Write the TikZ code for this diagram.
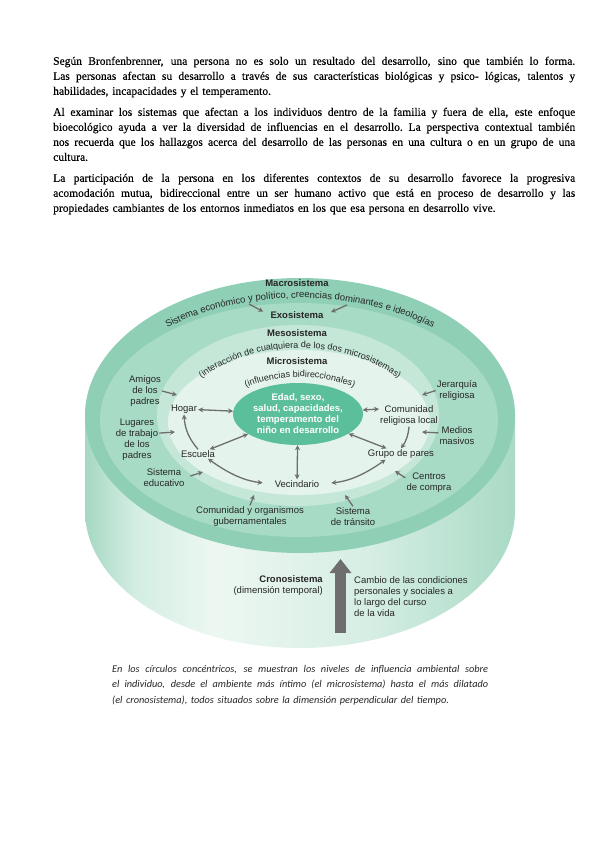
\documentclass[tikz,border=0pt]{standalone}
\usepackage{fontspec}
\setmainfont{Liberation Serif}
\setsansfont{Liberation Sans}
\newfontfamily\capfont{Carlito}
\newfontfamily\bodyfont[FakeBold=0.3]{Liberation Serif}
\usetikzlibrary{shapes.geometric,arrows.meta,decorations.text}
\XeTeXinterwordspaceshaping=0

\definecolor{gmacro}{HTML}{8FCFB6}
\definecolor{gexo}{HTML}{A8DBC6}
\definecolor{gmeso}{HTML}{C4E7D8}
\definecolor{gmicro}{HTML}{E4F4ED}
\definecolor{gcentre}{HTML}{5CBF9C}
\definecolor{garrow}{HTML}{6E6E6E}
\definecolor{gtext}{HTML}{262626}
\definecolor{gsideA}{HTML}{A6D8C3}
\definecolor{gsideB}{HTML}{D4EEE3}
\definecolor{gsideC}{HTML}{EDF7F2}
\definecolor{gsideD}{HTML}{D6EEE4}
\definecolor{gsideE}{HTML}{A9DAC5}

\pgfdeclarehorizontalshading{cylside}{100bp}{color(0bp)=(gsideA); color(25bp)=(gsideA); color(31bp)=(gsideB); color(40bp)=(gsideC); color(58bp)=(gsideD); color(75bp)=(gsideE); color(100bp)=(gsideE)}

\newcommand{\spreadline}[2]{\leavevmode\hbox to #1{\spaceskip=\fontdimen2\font plus 1fil\relax\xspaceskip=\spaceskip #2}}
\newcommand{\fullline}[1]{\spreadline{522pt}{#1}}
\newcommand{\capline}[1]{\spreadline{376pt}{#1}}

\begin{document}
\begin{tikzpicture}[x=1pt,y=1pt,
  lab/.style={font=\fontsize{9.5}{11}\selectfont\sffamily, text=gtext, align=center, inner sep=1pt},
  ttl/.style={lab, font=\fontsize{9.5}{11}\selectfont\sffamily\bfseries},
  arr/.style={draw=garrow, line width=1.3pt, -{Stealth[length=5pt,width=5pt]}},
  arrb/.style={arr, {Stealth[length=5pt,width=5pt]}-{Stealth[length=5pt,width=5pt]}},
  body/.style={font=\bodyfont\fontsize{11.5}{15}\selectfont, text=black, anchor=north west, inner sep=0pt, text width=522pt},
  curved/.style={decorate, decoration={text along path, text align=center, text color=gtext, text={#1}}}
]
\useasboundingbox (0,0) rectangle (599,-848);
\fill[white] (0,0) rectangle (599,-848);

% ---------- body text ----------
\node[body] (p1) at (53,-54.1) {\fullline{\strut Según Bronfenbrenner, una persona no es solo un resultado del desarrollo, sino que también lo forma.}\\
\fullline{Las personas afectan su desarrollo a través de sus características biológicas y psico- lógicas, talentos y}\\
habilidades, incapacidades y el temperamento.};

\node[body] (p2) at (53,-105.1) {\fullline{\strut Al examinar los sistemas que afectan a los individuos dentro de la familia y fuera de ella, este enfoque}\\
\fullline{bioecológico ayuda a ver la diversidad de influencias en el desarrollo. La perspectiva contextual también}\\
\fullline{nos recuerda que los hallazgos acerca del desarrollo de las personas en una cultura o en un grupo de una}\\
cultura.};

\node[body] (p3) at (53,-171.1) {\fullline{\strut La participación de la persona en los diferentes contextos de su desarrollo favorece la progresiva}\\
\fullline{acomodación mutua, bidireccional entre un ser humano activo que está en proceso de desarrollo y las}\\
propiedades cambiantes de los entornos inmediatos en los que esa persona en desarrollo vive.};

% ---------- cylinder ----------
\path[shading=cylside] (85,-415.5) -- (85,-510.5)
  arc[start angle=180, end angle=360, x radius=215pt, y radius=137.5pt]
  -- (515,-415.5) -- cycle;
\fill[gmacro] (300,-415.5) ellipse [x radius=215pt, y radius=137.5pt];
\fill[gexo]   (299,-420)   ellipse [x radius=199pt, y radius=117pt];
\fill[gmeso]  (298,-415.5) ellipse [x radius=141pt, y radius=90.5pt];
\fill[gmicro] (299,-422.5) ellipse [x radius=131pt, y radius=72.5pt];

% ---------- curved texts ----------
\path[curved={|\fontsize{9.5}{11}\selectfont\sffamily|Sistema económico y político, creencias dominantes e ideologías}, shift={(300,-419)}]
  (165:202pt and 121pt) arc[start angle=165, end angle=15, x radius=202pt, y radius=121pt];
\path[curved={|\fontsize{9}{11}\selectfont\sffamily|(interacción de cualquiera de los dos microsistemas)}, shift={(300,-440)}]
  (170:132pt and 92pt) arc[start angle=170, end angle=10, x radius=132pt, y radius=92pt];
\path[curved={|\fontsize{9}{11}\selectfont\sffamily|(influencias bidireccionales)}, shift={(300,-432)}]
  (170:92pt and 55pt) arc[start angle=170, end angle=10, x radius=92pt, y radius=55pt];

% ---------- titles ----------
\node[ttl] (macro) at (297,-283.5) {Macrosistema};
\node[ttl] (exo)   at (297,-315) {Exosistema};
\node[ttl] (meso)  at (297,-333.5) {Mesosistema};
\node[ttl] (micro) at (297,-361.5) {Microsistema};

% ---------- centre ----------
\node[ellipse, fill=gcentre, minimum width=130pt, minimum height=62pt, inner sep=0pt,
  align=center, text=white, font=\fontsize{9.5}{11}\selectfont\sffamily\bfseries]
  (centre) at (298,-414) {Edad, sexo,\\salud, capacidades,\\temperamento del\\niño en desarrollo};

% ---------- microsystem nodes ----------
\node[lab] (hogar)      at (184,-409) {Hogar};
\node[lab] (comrel)     at (409,-415.5) {Comunidad\\religiosa local};
\node[lab] (escuela)    at (198,-454) {Escuela};
\node[lab] (grupo)      at (401,-454) {Grupo de pares};
\node[lab] (vecindario) at (297,-484) {Vecindario};

% ---------- exosystem labels ----------
\node[lab] (amigos)    at (145,-391)   {Amigos\\de los\\padres};
\node[lab] (lugares)   at (137,-439.5) {Lugares\\de trabajo\\de los\\padres};
\node[lab] (sisedu)    at (164,-477.5) {Sistema\\educativo};
\node[lab] (comorg)    at (250,-516.5) {Comunidad y organismos\\gubernamentales};
\node[lab] (transito)  at (353,-516.5) {Sistema\\de tránsito};
\node[lab] (compra)    at (429,-482.5) {Centros\\de compra};
\node[lab] (medios)    at (457,-435.5) {Medios\\masivos};
\node[lab] (jerarquia) at (457,-390.5) {Jerarquía\\religiosa};

% ---------- chronosystem ----------
\node[lab, align=right, anchor=east] (crono) at (324,-586) {\textbf{Cronosistema}\\(dimensión temporal)};
\node[lab, align=left, anchor=west] (cambio) at (353,-596.5) {Cambio de las condiciones\\personales y sociales a\\lo largo del curso\\de la vida};
\coordinate (cronoA) at (340.5,-633);
\coordinate (cronoB) at (340.5,-559);
\draw[garrow, line width=11pt, -{Triangle[length=14pt,width=21pt]}] (cronoA) -- (cronoB);

% ---------- connectors ----------
\coordinate (mL) at (249,-304);
\coordinate (mR) at (347,-305);
\draw[arr, shorten >=7pt] (mL) -- (exo.west);
\draw[arr, shorten >=7pt] (mR) -- (exo.east);

\draw[arrb] (hogar) -- (centre);
\draw[arrb] (centre) -- (comrel.west |- hogar);
\draw[arrb] (escuela) -- (centre);
\draw[arrb] (grupo) -- (centre);
\draw[arrb] (centre) -- (vecindario);
\draw[arr] (escuela.north) to[bend left=18] (hogar.south);
\draw[arrb, shorten >=11pt] (escuela.335) to[bend right=15] (vecindario.west);
\draw[arrb, shorten >=11pt] (grupo.200) to[bend left=15] (vecindario.east);
\draw[arr] (comrel.south) to[bend left=15] (grupo.north);

\coordinate (tAm) at (177,-395);
\coordinate (tLu) at (175,-432);
\coordinate (tSe) at (203,-472);
\coordinate (tCo) at (254,-495);
\coordinate (tTr) at (345,-495);
\coordinate (tCe) at (395,-471);
\coordinate (tMe) at (422,-432);
\coordinate (tJe) at (422,-395);
\draw[arr] (amigos.east) -- (tAm);
\draw[arr] (lugares.16) -- (tLu);
\draw[arr, shorten <=5pt] (sisedu.east) -- (tSe);
\draw[arr] (comorg.north) -- (tCo);
\draw[arr] (transito.north) -- (tTr);
\draw[arr] (compra.169) -- (tCe);
\draw[arr] (medios.172) -- (tMe);
\draw[arr] (jerarquia.west) -- (tJe);

% ---------- caption ----------
\node[font=\capfont\itshape\fontsize{10.3}{15.5}\selectfont, anchor=north west, inner sep=0pt,
  text width=376pt, text=gtext] (cap) at (112,-661)
  {\capline{\strut En los círculos concéntricos, se muestran los niveles de influencia ambiental sobre}\\
   \capline{el individuo, desde el ambiente más íntimo (el microsistema) hasta el más dilatado}\\
   (el cronosistema), todos situados sobre la dimensión perpendicular del tiempo.};
\end{tikzpicture}
\end{document}
